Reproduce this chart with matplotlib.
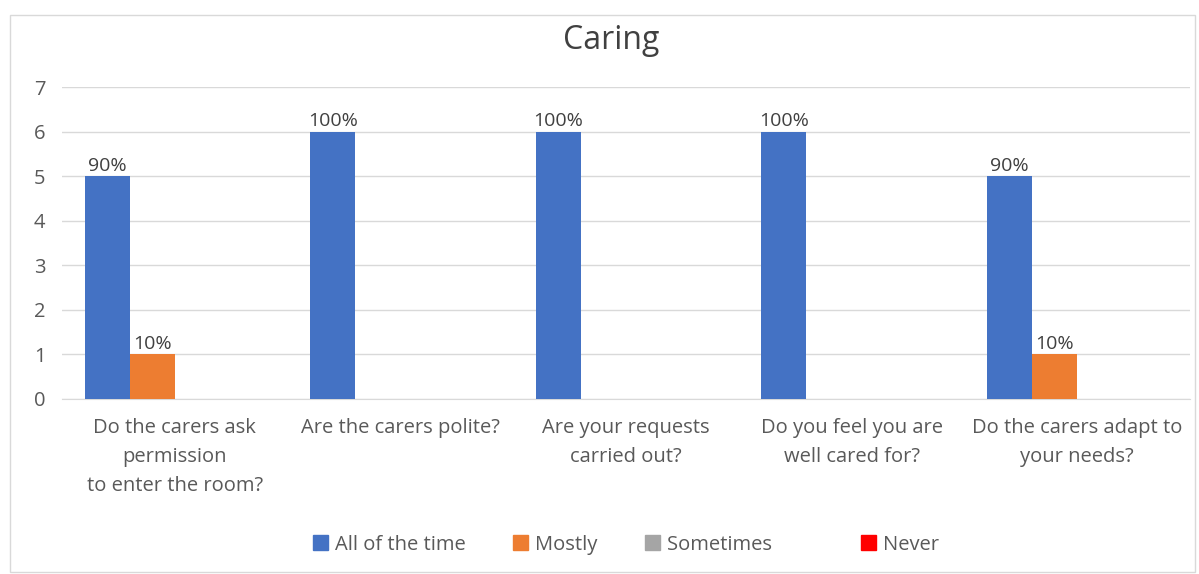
import matplotlib.pyplot as plt
import numpy as np
from matplotlib.patches import Rectangle

# data
questions = [
    "Do the carers ask\npermission\nto enter the room?",
    "Are the carers polite?",
    "Are your requests\ncarried out?",
    "Do you feel you are\nwell cared for?",
    "Do the carers adapt to\nyour needs?",
]
series_names = ["All of the time", "Mostly", "Sometimes", "Never"]
all_of_the_time = [5, 6, 6, 6, 5]
mostly = [1, 0, 0, 0, 1]
sometimes = [0, 0, 0, 0, 0]
never = [0, 0, 0, 0, 0]
all_labels = ["90%", "100%", "100%", "100%", "90%"]
mostly_labels = ["10%", "", "", "", "10%"]

colors = ["#4472C4", "#ED7D31", "#A5A5A5", "#FF0000"]

plt.rcParams["font.family"] = ["Open Sans", "DejaVu Sans"]

fig = plt.figure(figsize=(11.99, 5.74), dpi=100)
ax = fig.add_axes([0.0517, 0.3049, 0.9408, 0.5435])

# light chart-area border
fig.patches.append(Rectangle((10 / 1199, 2 / 574), 1185 / 1199, 557 / 574,
                             transform=fig.transFigure, fill=False,
                             edgecolor="#D9D9D9", linewidth=1))

x = np.arange(len(questions))
width = 0.2
values = [all_of_the_time, mostly, sometimes, never]
bars = []
for i, (name, vals) in enumerate(zip(series_names, values)):
    b = ax.bar(x + (i - 1.5) * width, vals, width, color=colors[i], label=name, zorder=3)
    bars.append(b)

for b, lab in zip(bars[0], all_labels):
    ax.text(b.get_x() + b.get_width() / 2, b.get_height() + 0.03, lab,
            ha="center", va="bottom", fontsize=14, color="#404040")
for b, lab in zip(bars[1], mostly_labels):
    if lab:
        ax.text(b.get_x() + b.get_width() / 2, b.get_height() + 0.03, lab,
                ha="center", va="bottom", fontsize=14, color="#404040")

ax.set_xlim(-0.5, len(questions) - 0.5)
ax.set_ylim(0, 7)
ax.set_yticks(range(0, 8))
ax.grid(axis="y", color="#D9D9D9", linewidth=1, zorder=0)
ax.set_xticks(x)
ax.set_xticklabels(questions, fontsize=14.5, color="#595959", linespacing=1.6)
ax.tick_params(axis="y", labelsize=14.5, labelcolor="#595959", length=0, pad=12)
ax.tick_params(axis="x", length=0, pad=14)
for s in ["top", "right", "left"]:
    ax.spines[s].set_visible(False)
ax.spines["bottom"].set_color("#D9D9D9")

fig.text(0.51, 0.93, "Caring", ha="center", va="center", fontsize=23, color="#404040")

handles = [Rectangle((0, 0), 1, 1, color=c) for c in colors]
leg_labels = ["All of the time", "Mostly", "Sometimes        ", "Never"]
fig.legend(handles, leg_labels, loc="center", bbox_to_anchor=(0.522, 0.051),
           ncol=4, frameon=False, fontsize=14.5, labelcolor="#595959",
           handlelength=0.75, handleheight=0.75, handletextpad=0.35, columnspacing=2.35)

plt.savefig("out.png", dpi=100)
